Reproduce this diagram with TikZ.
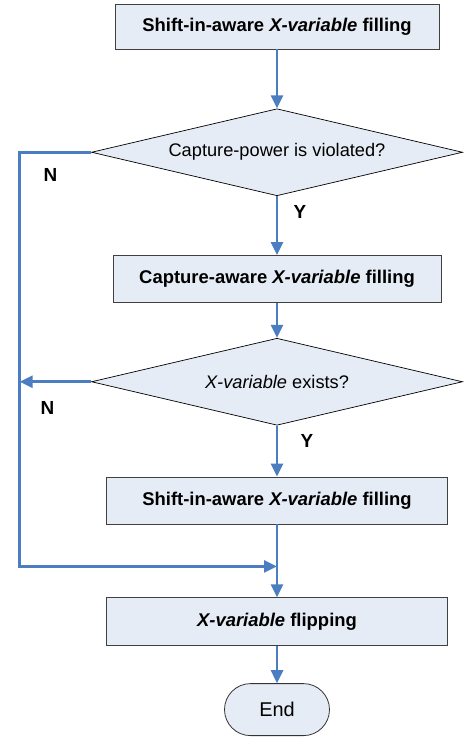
\documentclass[tikz,border=0pt]{standalone}
\usepackage{fontspec}
\setmainfont{Liberation Sans}
\usetikzlibrary{shapes.geometric,arrows.meta,positioning}
\definecolor{boxfill}{RGB}{230,236,246}
\definecolor{arrowblue}{RGB}{74,126,193}

\begin{document}
\begin{tikzpicture}[x=1bp, y=1bp,
  box/.style={rectangle, draw=black!75, fill=boxfill, line width=0.8bp,
              inner sep=0pt, minimum height=47bp,
              font=\fontsize{18.5}{22}\selectfont\bfseries},
  dec/.style={diamond, aspect=4.26, draw=black, fill=boxfill, line width=0.7bp,
              inner sep=0pt, minimum width=371bp, minimum height=87bp,
              font=\fontsize{18.3}{22}\selectfont},
  term/.style={rectangle, rounded corners=26bp, draw=black!80, fill=boxfill,
               line width=0.8bp, minimum width=105bp, minimum height=52bp,
               font=\fontsize{20}{24}\selectfont},
  lbl/.style={font=\fontsize{19}{22}\selectfont\bfseries},
  arr/.style={-{Triangle[length=13bp,width=12bp]}, draw=arrowblue,
              line width=2.6bp}]
\useasboundingbox (0,0) rectangle (467,-738);
\node[box, minimum width=324bp, minimum height=45bp] (fill1) at (277,-26.5)
  {Shift-in-aware \textit{X-variable} filling};
\node[dec, below=59bp of fill1] (viol) {Capture-power is violated?};
\node[box, below=59bp of viol, minimum width=328bp] (fill2)
  {Capture-aware \textit{X-variable} filling};
\node[dec, below=35bp of fill2] (exist) {\textit{X-variable} exists?};
\node[box, below=51bp of exist, minimum width=341bp] (fill3)
  {Shift-in-aware \textit{X-variable} filling};
\node[box, below=73bp of fill3, minimum width=341bp, minimum height=48bp] (flip)
  {\textit{X-variable} flipping};
\node[term, below=37bp of flip] (end) {End};
\coordinate (left) at ([xshift=-71.5bp]viol.west);
\coordinate (merge) at ([yshift=-42bp]fill3.south);
\draw[arr] (fill1) -- (viol);
\draw[arr] (viol) -- node[lbl, pos=0.27, right=12bp]{Y} (fill2);
\draw[arr] (fill2) -- (exist);
\draw[arr] (exist) -- node[lbl, pos=0.31, right=19bp]{Y} (fill3);
\draw[arr] (fill3) -- (flip);
\draw[arr] (flip) -- (end);
\draw[arr] (viol.west) -- node[lbl, below=12bp, xshift=-5bp]{N} (left) |- (merge);
\draw[arr] (exist.west) -- node[lbl, below=15bp, xshift=-8bp]{N}
  (exist.west -| left);
\end{tikzpicture}
\end{document}
